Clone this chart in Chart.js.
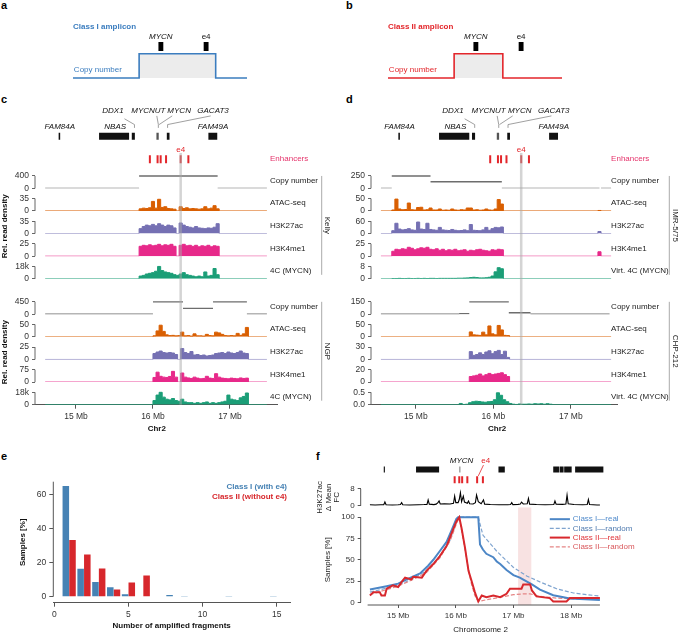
<!DOCTYPE html>
<html>
<head>
<meta charset="utf-8">
<script src="https://cdn.jsdelivr.net/npm/chart.js@4.4.1/dist/chart.umd.min.js"></script>
<style>
  html, body { margin: 0; padding: 0; background: #fff; }
  #page { position: relative; width: 679px; height: 633px; overflow: hidden; }
  #page canvas { position: absolute; }
  .tag { position: absolute; font: bold 11px "Liberation Sans", Arial, sans-serif; line-height: 11px; color: #000; }
</style>
</head>
<body>
<div id="page">
  <div class="tag" style="left:1px;top:0px">a</div>
  <div class="tag" style="left:346px;top:0px">b</div>
  <div class="tag" style="left:1px;top:94px">c</div>
  <div class="tag" style="left:346px;top:94px">d</div>
  <div class="tag" style="left:1px;top:451px">e</div>
  <div class="tag" style="left:316px;top:451px">f</div>
  <canvas id="chartA" width="200" height="67" style="left:60px;top:20px"></canvas>
  <canvas id="chartB" width="200" height="67" style="left:375px;top:20px"></canvas>
  <canvas id="chartC" width="340" height="345" style="left:0px;top:95px"></canvas>
  <canvas id="chartD" width="339" height="345" style="left:340px;top:95px"></canvas>
  <canvas id="chartE" width="300" height="163" style="left:0px;top:470px"></canvas>
  <canvas id="chartF" width="369" height="185" style="left:310px;top:448px"></canvas>
</div>
<script>
// ---------- a / b : amplicon sketches (x in % of sketch width) ----------
const ampliconA = [38, 82];
const ampliconB = [38, 66];
const mycnBlock = 50.5;
const e4Block = 76.5;

// ---------- c / d : coverage tracks (Mb on chr2) ----------
const BIN = 0.04;
const mbTicks = [15, 16, 17];
const geneStart = [14.775, 15.30, 15.725, 16.045, 16.18, 16.72];
const geneEnd   = [14.795, 15.69, 15.765, 16.075, 16.215, 16.835];
const geneShade = ['#111', '#111', '#111', '#555', '#111', '#111'];
const geneNames  = ['FAM84A', 'NBAS', 'FAM49A', 'DDX1', 'MYCNUT', 'MYCN', 'GACAT3'];
const geneNameMb = [14.79, 15.51, 16.78, 15.48, 15.94, 16.34, 16.78];
const geneNameRow = [0, 0, 0, 1, 1, 1, 1];
const geneLeaders = [
  [[15.63, 0.62], [15.76, 0.48], [15.76, 0.40]],
  [[16.05, 0.69], [16.07, 0.48], [16.07, 0.40]],
  [[16.25, 0.69], [16.08, 0.48]],
  [[16.75, 0.69], [16.19, 0.48], [16.19, 0.40]]
];
const enhancerMb = [15.96, 16.06, 16.10, 16.17, 16.36, 16.46];
const e4Mb = 16.36;

// Kelly (c, top)
const kellyCnStart = [14.60, 15.82, 16.84];
const kellyCnEnd   = [15.82, 16.84, 17.48];
const kellyCn      = [0, 400, 0];
const kellyStart = 15.82;
const kellyAtac = [6, 8, 7, 9, 27, 8, 33, 10, 12, 7, 6, 5, 0, 12, 7, 9, 6, 7, 6, 5, 6, 12, 6, 8, 15, 6];
const kellyK27  = [14, 20, 24, 22, 26, 22, 28, 24, 20, 24, 22, 16, 0, 30, 24, 20, 18, 16, 20, 16, 15, 14, 16, 15, 18, 28];
const kellyK4   = [20, 22, 21, 23, 21, 22, 24, 21, 23, 22, 24, 20, 0, 22, 24, 21, 22, 20, 22, 19, 21, 20, 22, 19, 21, 20];
const kelly4Ck  = [4, 5, 7, 8, 9, 11, 18, 12, 10, 9, 8, 6, 5, 7, 9, 6, 5, 4, 3, 4, 3, 10, 4, 5, 15, 6];

// NGP (c, bottom)
const ngpCnStart = [14.60, 16.00, 16.39, 16.78, 17.22];
const ngpCnEnd   = [16.00, 16.39, 16.78, 17.22, 17.48];
const ngpCn      = [0, 450, 213, 450, 0];
const ngpStart = 16.00;
const ngpAtac = [4, 24, 47, 22, 8, 5, 6, 4, 5, 19, 4, 5, 3, 12, 4, 4, 3, 10, 5, 4, 19, 16, 10, 5, 4, 5, 4, 14, 6, 12, 38];
const ngpK27  = [12, 15, 17, 14, 13, 14, 13, 10, 0, 22, 14, 12, 16, 9, 10, 8, 9, 7, 8, 9, 12, 13, 14, 12, 15, 13, 12, 14, 17, 13, 12];
const ngpK4   = [28, 60, 35, 30, 28, 34, 65, 30, 0, 55, 30, 25, 22, 30, 24, 20, 22, 35, 24, 22, 51, 30, 24, 22, 20, 24, 22, 20, 25, 22, 24];
const ngp4Ck  = [6, 14, 18, 11, 8, 7, 9, 6, 5, 8, 4, 3, 3, 2, 3, 2, 3, 4, 2, 3, 2, 3, 4, 5, 14, 8, 7, 6, 10, 12, 17];

// IMR-5/75 (d, top)
const imrCnStart = [14.55, 14.69, 15.19, 16.11, 17.39];
const imrCnEnd   = [14.69, 15.19, 16.11, 17.37, 17.52];
const imrCn      = [0, 250, 132, 0, 0];
const imrStart = 14.69;
const imrAtac = [4, 48, 8, 5, 6, 32, 5, 4, 14, 15, 4, 5, 12, 4, 4, 8, 3, 4, 3, 8, 4, 3, 5, 4, 12, 12, 4, 5, 3, 4, 8, 4, 3, 8, 46, 28];
const imrK27  = [14, 50, 22, 18, 20, 24, 18, 16, 56, 22, 20, 50, 20, 18, 16, 30, 18, 16, 15, 20, 16, 14, 15, 18, 14, 44, 16, 15, 14, 18, 30, 16, 24, 30, 28, 32];
const imrK4   = [10, 14, 13, 15, 14, 18, 16, 13, 15, 17, 16, 18, 14, 13, 15, 12, 14, 11, 13, 12, 14, 11, 12, 13, 10, 12, 11, 13, 14, 12, 11, 10, 13, 12, 14, 13];
const imrV4C  = [0.2, 0.2, 0.3, 0.2, 0.2, 0.3, 0.2, 0.2, 0.3, 0.2, 0.3, 0.2, 0.3, 0.3, 0.2, 0.3, 0.3, 0.3, 0.3, 0.3, 0.3, 0.4, 0.4, 0.5, 0.6, 0.8, 1.0, 0.8, 0.6, 0.6, 0.7, 1.0, 1.8, 4.5, 7.2, 6.5];
const imrBlipStart = 17.35;
const imrBlipAtac = [2];
const imrBlipK27 = [10];
const imrBlipK4 = [9];

// CHP-212 (d, bottom)
const chpCnStart = [14.55, 15.56, 15.69, 16.20, 16.48];
const chpCnEnd   = [15.56, 15.69, 16.20, 16.48, 17.50];
const chpCn      = [0, 6, 150, 18, 0];
const chpStart = 15.69;
const chpAtac = [20, 8, 7, 6, 19, 8, 44, 12, 8, 46, 28, 6, 5];
const chpK27  = [19, 10, 12, 16, 12, 18, 21, 14, 19, 22, 12, 20, 5];
const chpK4   = [9, 10, 11, 13, 10, 12, 14, 12, 13, 14, 15, 12, 9];
const chpV4CStart = 15.56;
const chpV4C  = [0.05, 0.01, 0.02, 0.08, 0.12, 0.14, 0.13, 0.11, 0.10, 0.12, 0.13, 0.20, 0.48, 0.38, 0.20, 0.12, 0.05, 0.02, 0.01, 0.03, 0.02, 0.02, 0.03, 0.02, 0.04, 0.03, 0.04, 0.02, 0.04, 0.02];

// ---------- e : fragment histogram ----------
const fragments  = [1, 2, 3, 4, 5, 6, 7, 8, 9, 10, 11, 12, 13, 14, 15];
const classIPct  = [65, 16.5, 8.7, 5.6, 1.4, 0, 0, 1.0, 0.5, 0, 0, 0.4, 0, 0, 0.4];
const classIIPct = [33.3, 24.8, 16.6, 4.2, 8.3, 12.5, 0, 0, 0, 0, 0, 0, 0, 0, 0];
const fragTicks = [0, 5, 10, 15];
const pctTicks = [0, 20, 40, 60];

// ---------- f : amplicon coverage profiles ----------
const fTicks = [15, 16, 17, 18];
const fGeneStart = [14.75, 15.31, 16.06, 16.74, 17.69, 17.80, 17.88, 18.07];
const fGeneEnd   = [14.77, 15.71, 16.08, 16.85, 17.79, 17.87, 18.01, 18.56];
const fGeneShade = ['#111', '#111', '#888', '#111', '#111', '#111', '#111', '#111'];
const fEnhancerMb = [15.98, 16.06, 16.11, 16.20, 16.37, 16.47];
const shadeMb = [17.08, 17.31];
const fcMb = [14.51,14.60,14.70,14.75,14.77,14.79,14.90,15.00,15.04,15.06,15.08,15.20,15.35,15.45,15.50,15.52,15.54,15.62,15.66,15.69,15.71,15.73,15.80,15.90,15.96,15.98,16.00,16.04,16.06,16.08,16.10,16.13,16.15,16.20,16.22,16.24,16.30,16.34,16.36,16.39,16.44,16.48,16.50,16.60,16.75,16.90,16.95,16.97,16.99,17.08,17.12,17.14,17.17,17.24,17.26,17.28,17.40,17.55,17.70,17.72,17.74,17.85,17.91,17.93,17.95,18.05,18.20,18.28,18.30,18.32,18.45,18.50];
const fcVal = [0.5,0.4,0.5,0.5,1.8,0.5,0.4,0.5,0.6,1.5,0.5,0.4,0.5,0.6,0.7,2.8,0.8,0.6,0.8,1.5,2.3,0.9,1.0,0.9,1.2,4.6,1.5,1.5,3.0,6.2,2.0,4.6,1.8,1.2,2.3,1.0,0.9,1.5,5.1,2.0,1.0,2.8,0.8,0.6,0.5,0.5,0.6,1.5,0.6,0.7,0.9,1.8,0.9,1.0,3.5,0.8,0.6,0.5,0.6,2.3,0.8,0.7,0.9,5.1,1.0,0.6,0.5,0.6,3.0,0.6,0.4,0.4];
const classIRealMb  = [14.51, 14.80, 15.00, 15.15, 15.38, 15.52, 15.61, 15.72, 15.84, 15.93, 16.01, 16.04, 16.39, 16.42, 16.47, 16.53, 16.65, 16.71, 16.77, 16.88, 17.00, 17.11, 17.32, 17.46, 17.69, 17.98, 18.50];
const classIRealPct = [15, 19, 22, 27, 34, 43, 50, 60, 71, 85, 98, 100, 100, 68, 62, 57, 53, 48, 45, 38, 32, 29, 21, 15, 8.4, 4.6, 2.7];
const classIRandMb  = [14.51, 15.00, 15.26, 15.49, 15.72, 15.90, 16.01, 16.04, 16.39, 16.47, 16.71, 17.00, 17.23, 17.46, 17.75, 18.04, 18.50];
const classIRandPct = [12, 20, 28, 37, 54, 73, 94, 100, 100, 79, 60, 41, 31, 24, 16, 11, 7.3];
const classIIRealMb  = [14.51,14.57,14.68,14.71,14.77,14.80,14.91,15.00,15.06,15.12,15.23,15.26,15.41,15.49,15.61,15.72,15.84,15.95,16.01,16.06,16.10,16.16,16.22,16.27,16.33,16.39,16.45,16.53,16.65,16.77,16.88,16.94,17.14,17.17,17.29,17.32,17.40,17.63,17.69,17.92,17.98,18.50];
const classIIRealPct = [8,12,12,8,8,16,20,18,24,29,27,30,29,37,45,54,66,85,95,100,87,64,37,26,12,1,8,6,8,6,10,16,16,21,21,14,7,5,1,1,5,5];
const classIIRandMb  = [14.51, 14.80, 15.00, 15.26, 15.49, 15.72, 15.90, 16.01, 16.06, 16.10, 16.16, 16.22, 16.27, 16.33, 16.39, 16.53, 16.77, 17.00, 17.17, 17.29, 17.46, 17.75, 18.04, 18.50];
const classIIRandPct = [9, 15, 19, 27, 35, 52, 72, 92, 100, 85, 62, 38, 22, 8, 1, 3, 6, 9, 10, 10, 7, 5, 4, 4];

// ---------- shared setup ----------
const FONT = '"Liberation Sans", Arial, Helvetica, sans-serif';
Chart.defaults.font.family = FONT;
Chart.defaults.font.size = 8.5;
Chart.defaults.color = '#333';
Chart.defaults.animation = false;
Chart.defaults.responsive = false;
Chart.defaults.devicePixelRatio = 1;
Chart.defaults.plugins.legend.display = false;
Chart.defaults.plugins.tooltip.enabled = false;

const COL = { cn: '#6d6d6d', atac: '#d95f02', k27: '#7570b3', k4: '#e7298a', c4: '#1b9e77' };
const RED = '#e3262b';

function txt(ctx, s, x, y, o) {
  o = o || {};
  ctx.save();
  ctx.font = (o.italic ? 'italic ' : '') + (o.bold ? 'bold ' : '') + (o.size || 8) + 'px ' + FONT;
  ctx.fillStyle = o.color || '#222';
  ctx.textAlign = o.align || 'left';
  ctx.textBaseline = 'middle';
  ctx.translate(x, y);
  if (o.rot) ctx.rotate(o.rot);
  ctx.fillText(s, 0, 0);
  ctx.restore();
}
function seg(ctx, pts, color, width, dash) {
  ctx.save();
  ctx.strokeStyle = color; ctx.lineWidth = width;
  if (dash) ctx.setLineDash(dash);
  ctx.beginPath();
  pts.forEach((p, i) => i ? ctx.lineTo(p[0], p[1]) : ctx.moveTo(p[0], p[1]));
  ctx.stroke();
  ctx.restore();
}

// ---------- a / b ----------
function amplicon(id, title, color, amp) {
  const block = x => ({ data: [{x: x - 1.4, y: 1.3}, {x: x + 1.4, y: 1.3}], borderColor: '#000',
    borderWidth: 9, borderCapStyle: 'butt', pointRadius: 0 });
  new Chart(document.getElementById(id), {
    type: 'line',
    data: { datasets: [
      { data: [{x: 0, y: 0}, {x: amp[0], y: 1}, {x: amp[1], y: 0}, {x: 100, y: 0}], stepped: true,
        borderColor: color, borderWidth: 1.6, fill: 'origin', backgroundColor: '#ececec', pointRadius: 0 },
      block(mycnBlock), block(e4Block)
    ]},
    options: {
      layout: { padding: { left: 13, right: 13, top: 4.5, bottom: 1.7 } },
      scales: {
        x: { type: 'linear', min: 0, max: 100, display: false },
        y: { type: 'linear', min: -0.3, max: 2.2, display: false }
      }
    },
    plugins: [{ id: 'ampText', afterDraw(chart) {
      const ctx = chart.ctx, sx = chart.scales.x, sy = chart.scales.y;
      txt(ctx, title, sx.getPixelForValue(0), sy.getPixelForValue(2.1), { bold: true, color });
      txt(ctx, 'MYCN', sx.getPixelForValue(mycnBlock), sy.getPixelForValue(1.69), { italic: true, align: 'center', color: '#111' });
      txt(ctx, 'e4', sx.getPixelForValue(e4Block), sy.getPixelForValue(1.69), { align: 'center', color: '#111' });
      txt(ctx, 'Copy number', sx.getPixelForValue(0.5), sy.getPixelForValue(0.33), { color });
    }}]
  });
}
amplicon('chartA', 'Class I amplicon', '#3b7dbf', ampliconA);
amplicon('chartB', 'Class II amplicon', RED, ampliconB);

// ---------- c / d ----------
function hiddenAxis(stack, sw, w, axw, min, max) {
  return { axis: 'y', type: 'linear', position: 'left', stack, stackWeight: sw, weight: w,
    min: min || 0, max: max || 1, afterFit: s => { s.width = axw; },
    ticks: { display: false }, grid: { display: false }, border: { display: false } };
}
function trackAxis(maxLabel, tickText, w, axw) {
  return { axis: 'y', type: 'linear', position: 'left', stack: 'trk', stackWeight: 23, weight: w,
    min: 0, max: maxLabel * 23 / 12.6,
    afterBuildTicks: s => { s.ticks = [{value: 0}, {value: maxLabel}]; },
    afterFit: s => { s.width = axw; },
    ticks: { autoSkip: false, padding: 3, color: '#333', callback: v => v === 0 ? tickText[0] : tickText[1] },
    grid: { drawOnChartArea: false, tickLength: 3, color: '#666' },
    border: { display: false } };
}
function cnLine(yId, starts, ends, vals) {
  const pts = [];
  starts.forEach((s, i) => { pts.push({x: s, y: vals[i]}, {x: ends[i], y: vals[i]}, {x: ends[i], y: null}); });
  return { data: pts, yAxisID: yId, borderColor: COL.cn, borderWidth: 1.4, pointRadius: 0, spanGaps: false, fill: false };
}
function signal(yId, color, from, to, regions) {
  const pts = [{x: from, y: 0}];
  regions.forEach(([start, vals]) => {
    vals.forEach((v, i) => pts.push({x: start + i * BIN, y: v}));
    pts.push({x: start + vals.length * BIN, y: 0});
  });
  pts.push({x: to, y: 0});
  return { data: pts, yAxisID: yId, borderColor: color, backgroundColor: color, borderWidth: 1,
    pointRadius: 0, stepped: true, fill: 'origin' };
}

function trackPanel(id, p) {
  const scales = {
    x: { type: 'linear', min: p.xMin, max: p.xMax,
      afterBuildTicks: s => { s.ticks = mbTicks.map(v => ({value: v})); },
      afterFit: s => { s.height = 35.3; },
      ticks: { autoSkip: false, maxRotation: 0, padding: 3, color: '#333', callback: v => v + ' Mb' },
      grid: { drawOnChartArea: false, tickLength: 4, color: '#555' },
      border: { color: '#555' } },
    gene: hiddenAxis('trk', 42, 30, p.axisW),
    enh: hiddenAxis('trk', 21.7, 29, p.axisW)
  };
  const datasets = [];
  geneStart.forEach((s, i) => datasets.push({ data: [{x: s, y: 0.2}, {x: geneEnd[i], y: 0.2}], yAxisID: 'gene',
    borderColor: geneShade[i], borderWidth: 7, borderCapStyle: 'butt', pointRadius: 0 }));
  datasets.push({ data: enhancerMb.map(x => ({x, y: 0.31})), yAxisID: 'enh', showLine: false,
    pointStyle: 'line', pointRotation: 90, pointRadius: 4, pointBorderWidth: 2, pointBorderColor: RED, borderColor: RED });
  let w = 28;
  p.groups.forEach((g, gi) => {
    if (gi) scales['gap' + gi] = hiddenAxis('trk', 13, w--, p.axisW);
    g.tracks.forEach((t, ti) => {
      const yId = g.key + ti;
      scales[yId] = trackAxis(t.max, t.ticks, w--, p.axisW);
      datasets.push(t.cn ? cnLine(yId, t.cn[0], t.cn[1], t.cn[2]) : signal(yId, t.color, p.from, p.to, t.regions));
    });
  });

  new Chart(document.getElementById(id), {
    type: 'line',
    data: { datasets },
    options: { layout: { padding: { left: 0, right: p.padRight, top: 3, bottom: 0 } }, scales },
    plugins: [{
      id: 'trackDeco',
      afterDatasetsDraw(chart) {
        const ex = chart.scales.x.getPixelForValue(e4Mb);
        seg(chart.ctx, [[ex, chart.scales.enh.getPixelForValue(0.6)], [ex, chart.chartArea.bottom]], 'rgba(170,170,170,0.5)', 2.5);
      },
      afterDraw(chart) {
        const ctx = chart.ctx, sx = chart.scales.x, ca = chart.chartArea;
        const labX = sx.getPixelForValue(17.52);
        const sg = chart.scales.gene, se = chart.scales.enh;
        geneNames.forEach((n, i) => txt(ctx, n, sx.getPixelForValue(geneNameMb[i]),
          sg.getPixelForValue(geneNameRow[i] ? 0.81 : 0.43), { italic: true, align: 'center', color: '#111' }));
        geneLeaders.forEach(l => seg(ctx, l.map(q => [sx.getPixelForValue(q[0]), sg.getPixelForValue(q[1])]), '#888', 0.8));
        txt(ctx, 'e4', sx.getPixelForValue(e4Mb), se.getPixelForValue(0.77), { align: 'center', color: RED });
        txt(ctx, 'Enhancers', labX, se.getPixelForValue(0.31), { color: '#e5336b' });
        p.groups.forEach(g => {
          g.tracks.forEach((t, ti) => {
            const sy = chart.scales[g.key + ti];
            seg(ctx, [[ca.left, sy.getPixelForValue(0)], [ca.left, sy.getPixelForValue(t.max)]], '#666', 1);
            txt(ctx, t.label, labX, sy.getPixelForValue(t.max * 0.62), { color: '#222' });
          });
          const first = chart.scales[g.key + '0'], last = chart.scales[g.key + (g.tracks.length - 1)];
          const top = first.getPixelForValue(g.tracks[0].max), bot = last.getPixelForValue(0) - 4;
          seg(ctx, [[p.bracketX, top], [p.bracketX, bot]], '#aaa', 1);
          txt(ctx, g.name, p.nameX, (top + bot) / 2, { align: 'center', rot: Math.PI / 2, color: '#222' });
          if (p.yTitle) txt(ctx, p.yTitle, 5, (first.top + last.bottom) / 2 + 4, { bold: true, align: 'center', rot: -Math.PI / 2, color: '#111' });
        });
        txt(ctx, 'Chr2', sx.getPixelForValue(16.05), ca.bottom + 24.3, { bold: true, align: 'center', color: '#111' });
      }
    }]
  });
}

trackPanel('chartC', {
  axisW: 35, xMin: 14.468, xMax: 17.611, padRight: 63, from: 14.60, to: 17.48,
  bracketX: 321.7, nameX: 327, yTitle: 'Rel. read density',
  groups: [
    { key: 'k', name: 'Kelly', tracks: [
      { label: 'Copy number', max: 400, ticks: ['0', '400'], cn: [kellyCnStart, kellyCnEnd, kellyCn] },
      { label: 'ATAC-seq', max: 35, ticks: ['0', '35'], color: COL.atac, regions: [[kellyStart, kellyAtac]] },
      { label: 'H3K27ac', max: 35, ticks: ['0', '35'], color: COL.k27, regions: [[kellyStart, kellyK27]] },
      { label: 'H3K4me1', max: 25, ticks: ['0', '25'], color: COL.k4, regions: [[kellyStart, kellyK4]] },
      { label: '4C (MYCN)', max: 18, ticks: ['0', '18k'], color: COL.c4, regions: [[kellyStart, kelly4Ck]] }
    ]},
    { key: 'n', name: 'NGP', tracks: [
      { label: 'Copy number', max: 450, ticks: ['0', '450'], cn: [ngpCnStart, ngpCnEnd, ngpCn] },
      { label: 'ATAC-seq', max: 50, ticks: ['0', '50'], color: COL.atac, regions: [[ngpStart, ngpAtac]] },
      { label: 'H3K27ac', max: 25, ticks: ['0', '25'], color: COL.k27, regions: [[ngpStart, ngpK27]] },
      { label: 'H3K4me1', max: 75, ticks: ['0', '75'], color: COL.k4, regions: [[ngpStart, ngpK4]] },
      { label: '4C (MYCN)', max: 18, ticks: ['0', '18k'], color: COL.c4, regions: [[ngpStart, ngp4Ck]] }
    ]}
  ]
});

trackPanel('chartD', {
  axisW: 31, xMin: 14.422, xMax: 17.596, padRight: 62, from: 14.55, to: 17.52,
  bracketX: 329.3, nameX: 335, yTitle: null,
  groups: [
    { key: 'i', name: 'IMR-5/75', tracks: [
      { label: 'Copy number', max: 250, ticks: ['0', '250'], cn: [imrCnStart, imrCnEnd, imrCn] },
      { label: 'ATAC-seq', max: 50, ticks: ['0', '50'], color: COL.atac, regions: [[imrStart, imrAtac], [imrBlipStart, imrBlipAtac]] },
      { label: 'H3K27ac', max: 60, ticks: ['0', '60'], color: COL.k27, regions: [[imrStart, imrK27], [imrBlipStart, imrBlipK27]] },
      { label: 'H3K4me1', max: 25, ticks: ['0', '25'], color: COL.k4, regions: [[imrStart, imrK4], [imrBlipStart, imrBlipK4]] },
      { label: 'Virt. 4C (MYCN)', max: 8, ticks: ['0', '8'], color: COL.c4, regions: [[imrStart, imrV4C]] }
    ]},
    { key: 'h', name: 'CHP-212', tracks: [
      { label: 'Copy number', max: 150, ticks: ['0', '150'], cn: [chpCnStart, chpCnEnd, chpCn] },
      { label: 'ATAC-seq', max: 50, ticks: ['0', '50'], color: COL.atac, regions: [[chpStart, chpAtac]] },
      { label: 'H3K27ac', max: 30, ticks: ['0', '30'], color: COL.k27, regions: [[chpStart, chpK27]] },
      { label: 'H3K4me1', max: 20, ticks: ['0', '20'], color: COL.k4, regions: [[chpStart, chpK4]] },
      { label: 'Virt. 4C (MYCN)', max: 0.5, ticks: ['0.0', '0.5'], color: COL.c4, regions: [[chpV4CStart, chpV4C]] }
    ]}
  ]
});

// ---------- e ----------
new Chart(document.getElementById('chartE'), {
  type: 'bar',
  data: { datasets: [
    { data: fragments.map((n, i) => ({x: n, y: classIPct[i]})), backgroundColor: '#4682b4', categoryPercentage: 0.9, barPercentage: 0.98 },
    { data: fragments.map((n, i) => ({x: n, y: classIIPct[i]})), backgroundColor: '#d7272c', categoryPercentage: 0.9, barPercentage: 0.98 }
  ]},
  options: {
    layout: { padding: { top: 11.7, right: 10, left: 0, bottom: 0 } },
    scales: {
      x: { type: 'linear', min: -0.07, max: 15.9, offset: false,
        afterBuildTicks: s => { s.ticks = fragTicks.map(v => ({value: v})); },
        afterFit: s => { s.height = 30.3; },
        ticks: { autoSkip: false, maxRotation: 0, padding: 3 },
        grid: { offset: false, drawOnChartArea: false, tickLength: 4, color: '#555' },
        border: { color: '#555' } },
      y: { type: 'linear', min: -3.5, max: 67.6,
        afterBuildTicks: s => { s.ticks = pctTicks.map(v => ({value: v})); },
        afterFit: s => { s.width = 53.3; },
        ticks: { autoSkip: false, padding: 3 },
        grid: { drawOnChartArea: false, tickLength: 4, color: '#555' },
        border: { display: false } }
    }
  },
  plugins: [{ id: 'histDeco', afterDraw(chart) {
    const ctx = chart.ctx, ca = chart.chartArea, sy = chart.scales.y;
    seg(ctx, [[ca.left, sy.getPixelForValue(0)], [ca.left, ca.top]], '#555', 1);
    txt(ctx, 'Class I (with e4)', ca.right - 3, ca.top + 5, { bold: true, align: 'right', color: '#4682b4' });
    txt(ctx, 'Class II (without e4)', ca.right - 3, ca.top + 15, { bold: true, align: 'right', color: '#d7272c' });
    txt(ctx, 'Samples [%]', 23, sy.getPixelForValue(32), { bold: true, align: 'center', rot: -Math.PI / 2, color: '#111' });
    txt(ctx, 'Number of amplified fragments', (ca.left + ca.right) / 2, ca.bottom + 23.3, { bold: true, align: 'center', color: '#111' });
  }}]
});

// ---------- f ----------
const BLUE = '#4c86c6', BLUE2 = '#7fa4cf', RED2 = '#e58585', REDF = '#d8282d';
const xy = (xs, ys) => xs.map((x, i) => ({x, y: ys[i]}));
const fDatasets = [
  { data: xy(classIRealMb, classIRealPct), yAxisID: 'ln', borderColor: BLUE, borderWidth: 2, pointRadius: 0, order: 1 },
  { data: xy(classIIRealMb, classIIRealPct), yAxisID: 'ln', borderColor: REDF, borderWidth: 2, pointRadius: 0, order: 0 },
  { data: xy(classIRandMb, classIRandPct), yAxisID: 'ln', borderColor: BLUE2, borderWidth: 1.2, borderDash: [4, 2], pointRadius: 0, order: 3 },
  { data: xy(classIIRandMb, classIIRandPct), yAxisID: 'ln', borderColor: RED2, borderWidth: 1.2, borderDash: [4, 2], pointRadius: 0, order: 2 },
  { data: xy(fcMb, fcVal), yAxisID: 'fc', borderColor: '#000', borderWidth: 1.1, pointRadius: 0, order: 4 },
  { data: fEnhancerMb.map(x => ({x, y: 0.5})), yAxisID: 'enh', showLine: false, pointStyle: 'line', pointRotation: 90,
    pointRadius: 3.5, pointBorderWidth: 2, pointBorderColor: RED, borderColor: RED, order: 5 }
];
fGeneStart.forEach((s, i) => fDatasets.push({ data: [{x: s, y: 0.26}, {x: fGeneEnd[i], y: 0.26}], yAxisID: 'gene',
  borderColor: fGeneShade[i], borderWidth: 6, borderCapStyle: 'butt', pointRadius: 0, order: 6 }));

const fLegend = [
  ['Class I\u2014real', BLUE, 2, null, '#4f8acb'],
  ['Class I\u2014random', BLUE2, 1.2, [4, 2], '#4f7bb0'],
  ['Class II\u2014real', REDF, 2, null, '#e0353a'],
  ['Class II\u2014random', RED2, 1.2, [4, 2], '#d9585c']
];

new Chart(document.getElementById('chartF'), {
  type: 'line',
  data: { datasets: fDatasets },
  options: {
    layout: { padding: { top: 4, right: 69, left: 0, bottom: 0 } },
    scales: {
      x: { type: 'linear', min: 14.35, max: 18.675,
        afterBuildTicks: s => { s.ticks = fTicks.map(v => ({value: v})); },
        afterFit: s => { s.height = 28; },
        ticks: { autoSkip: false, maxRotation: 0, padding: 3, font: { size: 8 }, callback: v => v + ' Mb' },
        grid: { drawOnChartArea: false, tickLength: 3, color: '#555' },
        border: { display: false } },
      gene: hiddenAxis('f', 19, 40, 50.7),
      enh: hiddenAxis('f', 11, 39, 50.7),
      fc: { axis: 'y', type: 'linear', position: 'left', stack: 'f', stackWeight: 23, weight: 38, min: -0.78, max: 9.85,
        afterBuildTicks: s => { s.ticks = [{value: 0}, {value: 8}]; },
        afterFit: s => { s.width = 50.7; },
        ticks: { autoSkip: false, padding: 3, font: { size: 8 } },
        grid: { drawOnChartArea: false, tickLength: 3, color: '#555' },
        border: { display: false } },
      ln: { axis: 'y', type: 'linear', position: 'left', stack: 'f', stackWeight: 100, weight: 37, min: -3.1, max: 111.4,
        afterBuildTicks: s => { s.ticks = [0, 25, 50, 75, 100].map(v => ({value: v})); },
        afterFit: s => { s.width = 50.7; },
        ticks: { autoSkip: false, padding: 3, font: { size: 8 } },
        grid: { drawOnChartArea: false, tickLength: 3, color: '#555' },
        border: { display: false } }
    }
  },
  plugins: [{
    id: 'profileDeco',
    beforeDatasetsDraw(chart) {
      const ctx = chart.ctx, sx = chart.scales.x, ln = chart.scales.ln;
      const x0 = sx.getPixelForValue(shadeMb[0]), x1 = sx.getPixelForValue(shadeMb[1]);
      ctx.save(); ctx.fillStyle = 'rgba(232,160,160,0.3)'; ctx.fillRect(x0, ln.top, x1 - x0, ln.bottom - ln.top); ctx.restore();
    },
    afterDraw(chart) {
      const ctx = chart.ctx, sx = chart.scales.x, ca = chart.chartArea;
      const fc = chart.scales.fc, ln = chart.scales.ln, sg = chart.scales.gene, se = chart.scales.enh;
      seg(ctx, [[ca.left, fc.getPixelForValue(0)], [ca.left, fc.getPixelForValue(8)]], '#555', 1);
      seg(ctx, [[ca.left, ln.getPixelForValue(0)], [ca.left, ln.getPixelForValue(100)]], '#555', 1);
      seg(ctx, [[sx.getPixelForValue(14.47), ca.bottom], [sx.getPixelForValue(18.5), ca.bottom]], '#555', 1);
      txt(ctx, 'MYCN', sx.getPixelForValue(16.10), sg.getPixelForValue(0.75), { italic: true, align: 'center', color: '#111' });
      txt(ctx, 'e4', sx.getPixelForValue(16.52), sg.getPixelForValue(0.75), { align: 'center', color: RED });
      seg(ctx, [[sx.getPixelForValue(16.48), sg.getPixelForValue(0.5)], [sx.getPixelForValue(16.39), se.getPixelForValue(0.85)]], RED, 0.8);
      fLegend.forEach((l, i) => {
        const y = ln.top + 11.7 + i * 9.2;
        seg(ctx, [[sx.getPixelForValue(17.63), y], [sx.getPixelForValue(17.98), y]], l[1], l[2], l[3]);
        txt(ctx, l[0], sx.getPixelForValue(18.03), y, { color: l[4] });
      });
      txt(ctx, 'Samples [%]', 18, (ln.getPixelForValue(0) + ln.getPixelForValue(100)) / 2, { align: 'center', rot: -Math.PI / 2, color: '#222' });
      const fcMid = (fc.getPixelForValue(0) + fc.getPixelForValue(8)) / 2;
      txt(ctx, 'H3K27ac', 10, fcMid, { align: 'center', rot: -Math.PI / 2, color: '#222' });
      txt(ctx, '\u0394 Mean', 18.7, fcMid, { align: 'center', rot: -Math.PI / 2, color: '#222' });
      txt(ctx, 'FC', 27, fcMid, { align: 'center', rot: -Math.PI / 2, color: '#222' });
      txt(ctx, 'Chromosome 2', sx.getPixelForValue(16.43), ca.bottom + 25, { align: 'center', color: '#222' });
    }
  }]
});
</script>
</body>
</html>
